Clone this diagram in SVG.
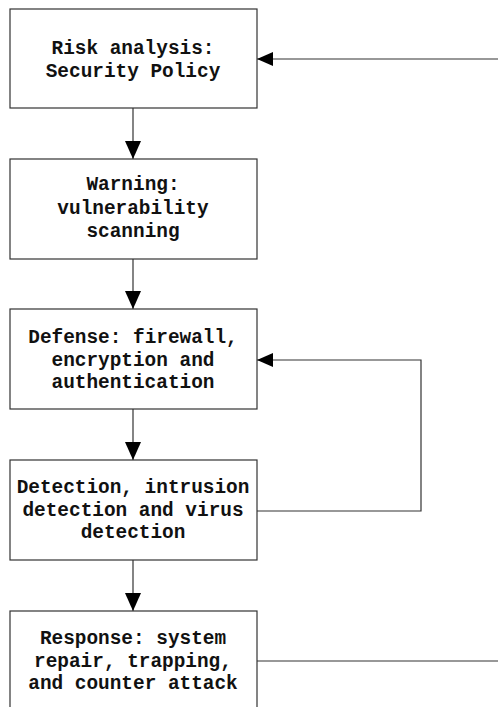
<svg xmlns="http://www.w3.org/2000/svg" width="498" height="707" viewBox="0 0 498 707">
<style>
.box{fill:#fff;stroke:#333;stroke-width:1.2}
.t{font-family:"Liberation Mono","DejaVu Sans Mono",monospace;font-size:19.4px;font-weight:bold;fill:#111;text-anchor:middle}
.c{fill:none;stroke:#333;stroke-width:1.2}
</style>
<defs>
<marker id="ad" markerUnits="userSpaceOnUse" markerWidth="18" markerHeight="16" refX="18" refY="8" orient="auto" viewBox="0 0 18 16"><path d="M0,0 L18,8 L0,16 Z" fill="#000"/></marker>
<marker id="al" markerUnits="userSpaceOnUse" markerWidth="16" markerHeight="14" refX="16" refY="7" orient="auto" viewBox="0 0 16 14"><path d="M0,0 L16,7 L0,14 Z" fill="#000"/></marker>
</defs>
<g id="connectors">
<path class="c" d="M133,108 V159" marker-end="url(#ad)"/>
<path class="c" d="M133,259 V309" marker-end="url(#ad)"/>
<path class="c" d="M133,409 V460" marker-end="url(#ad)"/>
<path class="c" d="M133,560 V611" marker-end="url(#ad)"/>
<path class="c" d="M498,59 H257" marker-end="url(#al)"/>
<path class="c" d="M257,511 H421 V360 H257" marker-end="url(#al)"/>
<path class="c" d="M257,661 H498"/>
</g>
<g id="n1">
<rect class="box" x="10" y="9" width="247" height="99"/>
<text class="t" x="133" y="54">Risk analysis:</text>
<text class="t" x="133" y="77">Security Policy</text>
</g>
<g id="n2">
<rect class="box" x="10" y="159" width="247" height="100"/>
<text class="t" x="133" y="190">Warning:</text>
<text class="t" x="133" y="214">vulnerability</text>
<text class="t" x="133" y="237">scanning</text>
</g>
<g id="n3">
<rect class="box" x="10" y="309" width="247" height="100"/>
<text class="t" x="133" y="343">Defense: firewall,</text>
<text class="t" x="133" y="366">encryption and</text>
<text class="t" x="133" y="388">authentication</text>
</g>
<g id="n4">
<rect class="box" x="10" y="460" width="247" height="100"/>
<text class="t" x="133" y="493">Detection, intrusion</text>
<text class="t" x="133" y="516">detection and virus</text>
<text class="t" x="133" y="538">detection</text>
</g>
<g id="n5">
<rect class="box" x="10" y="611" width="247" height="100"/>
<text class="t" x="133" y="644">Response: system</text>
<text class="t" x="133" y="667">repair, trapping,</text>
<text class="t" x="133" y="689">and counter attack</text>
</g>
</svg>
